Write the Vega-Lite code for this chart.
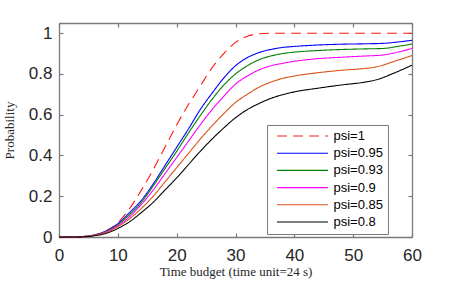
{
  "$schema": "https://vega.github.io/schema/vega-lite/v6.json",
  "width": 353,
  "height": 214,
  "autosize": "none",
  "padding": {"left": 59, "top": 23, "right": 43, "bottom": 56},
  "background": "white",
  "config": {
    "view": {"stroke": null},
    "axis": {
      "domainColor": "#7a7a7a", "domainWidth": 1.3,
      "tickColor": "#7a7a7a", "tickWidth": 1.2, "tickSize": -4,
      "grid": false,
      "labelFont": "Liberation Sans", "labelFontSize": 17, "labelColor": "#262626",
      "titleFont": "Liberation Serif", "titleFontSize": 13, "titleFontWeight": "normal", "titleColor": "#262626"
    }
  },
  "data": {"values": [
    {"psi":"psi=1","t":0,"p":0},{"psi":"psi=1","t":2,"p":0},{"psi":"psi=1","t":4,"p":0.002},{"psi":"psi=1","t":6,"p":0.01},{"psi":"psi=1","t":8,"p":0.03},{"psi":"psi=1","t":10,"p":0.07},{"psi":"psi=1","t":12,"p":0.14},{"psi":"psi=1","t":14,"p":0.23},{"psi":"psi=1","t":16,"p":0.33},{"psi":"psi=1","t":18,"p":0.44},{"psi":"psi=1","t":20,"p":0.55},{"psi":"psi=1","t":22,"p":0.65},{"psi":"psi=1","t":24,"p":0.74},{"psi":"psi=1","t":26,"p":0.83},{"psi":"psi=1","t":28,"p":0.9},{"psi":"psi=1","t":30,"p":0.955},{"psi":"psi=1","t":32,"p":0.985},{"psi":"psi=1","t":34,"p":0.997},{"psi":"psi=1","t":36,"p":1},{"psi":"psi=1","t":40,"p":1},{"psi":"psi=1","t":50,"p":1},{"psi":"psi=1","t":60,"p":1},
    {"psi":"psi=0.95","t":0,"p":0},{"psi":"psi=0.95","t":2,"p":0},{"psi":"psi=0.95","t":4,"p":0.002},{"psi":"psi=0.95","t":6,"p":0.01},{"psi":"psi=0.95","t":8,"p":0.03},{"psi":"psi=0.95","t":10,"p":0.065},{"psi":"psi=0.95","t":12,"p":0.12},{"psi":"psi=0.95","t":14,"p":0.18},{"psi":"psi=0.95","t":16,"p":0.26},{"psi":"psi=0.95","t":18,"p":0.35},{"psi":"psi=0.95","t":20,"p":0.44},{"psi":"psi=0.95","t":22,"p":0.53},{"psi":"psi=0.95","t":24,"p":0.625},{"psi":"psi=0.95","t":26,"p":0.705},{"psi":"psi=0.95","t":28,"p":0.78},{"psi":"psi=0.95","t":30,"p":0.84},{"psi":"psi=0.95","t":32,"p":0.88},{"psi":"psi=0.95","t":34,"p":0.905},{"psi":"psi=0.95","t":36,"p":0.92},{"psi":"psi=0.95","t":38,"p":0.93},{"psi":"psi=0.95","t":40,"p":0.935},{"psi":"psi=0.95","t":44,"p":0.942},{"psi":"psi=0.95","t":48,"p":0.946},{"psi":"psi=0.95","t":52,"p":0.948},{"psi":"psi=0.95","t":55,"p":0.95},{"psi":"psi=0.95","t":58,"p":0.958},{"psi":"psi=0.95","t":60,"p":0.965},
    {"psi":"psi=0.93","t":0,"p":0},{"psi":"psi=0.93","t":2,"p":0},{"psi":"psi=0.93","t":4,"p":0.002},{"psi":"psi=0.93","t":6,"p":0.01},{"psi":"psi=0.93","t":8,"p":0.028},{"psi":"psi=0.93","t":10,"p":0.06},{"psi":"psi=0.93","t":12,"p":0.11},{"psi":"psi=0.93","t":14,"p":0.17},{"psi":"psi=0.93","t":16,"p":0.25},{"psi":"psi=0.93","t":18,"p":0.335},{"psi":"psi=0.93","t":20,"p":0.42},{"psi":"psi=0.93","t":22,"p":0.51},{"psi":"psi=0.93","t":24,"p":0.595},{"psi":"psi=0.93","t":26,"p":0.675},{"psi":"psi=0.93","t":28,"p":0.745},{"psi":"psi=0.93","t":30,"p":0.8},{"psi":"psi=0.93","t":32,"p":0.84},{"psi":"psi=0.93","t":34,"p":0.87},{"psi":"psi=0.93","t":36,"p":0.888},{"psi":"psi=0.93","t":38,"p":0.9},{"psi":"psi=0.93","t":40,"p":0.907},{"psi":"psi=0.93","t":44,"p":0.915},{"psi":"psi=0.93","t":48,"p":0.92},{"psi":"psi=0.93","t":52,"p":0.923},{"psi":"psi=0.93","t":55,"p":0.925},{"psi":"psi=0.93","t":58,"p":0.937},{"psi":"psi=0.93","t":60,"p":0.947},
    {"psi":"psi=0.9","t":0,"p":0},{"psi":"psi=0.9","t":2,"p":0},{"psi":"psi=0.9","t":4,"p":0.002},{"psi":"psi=0.9","t":6,"p":0.009},{"psi":"psi=0.9","t":8,"p":0.026},{"psi":"psi=0.9","t":10,"p":0.055},{"psi":"psi=0.9","t":12,"p":0.1},{"psi":"psi=0.9","t":14,"p":0.16},{"psi":"psi=0.9","t":16,"p":0.23},{"psi":"psi=0.9","t":18,"p":0.31},{"psi":"psi=0.9","t":20,"p":0.39},{"psi":"psi=0.9","t":22,"p":0.47},{"psi":"psi=0.9","t":24,"p":0.55},{"psi":"psi=0.9","t":26,"p":0.625},{"psi":"psi=0.9","t":28,"p":0.69},{"psi":"psi=0.9","t":30,"p":0.75},{"psi":"psi=0.9","t":32,"p":0.79},{"psi":"psi=0.9","t":34,"p":0.82},{"psi":"psi=0.9","t":36,"p":0.84},{"psi":"psi=0.9","t":38,"p":0.852},{"psi":"psi=0.9","t":40,"p":0.862},{"psi":"psi=0.9","t":44,"p":0.875},{"psi":"psi=0.9","t":48,"p":0.882},{"psi":"psi=0.9","t":52,"p":0.888},{"psi":"psi=0.9","t":55,"p":0.893},{"psi":"psi=0.9","t":58,"p":0.91},{"psi":"psi=0.9","t":60,"p":0.925},
    {"psi":"psi=0.85","t":0,"p":0},{"psi":"psi=0.85","t":2,"p":0},{"psi":"psi=0.85","t":4,"p":0.002},{"psi":"psi=0.85","t":6,"p":0.008},{"psi":"psi=0.85","t":8,"p":0.022},{"psi":"psi=0.85","t":10,"p":0.05},{"psi":"psi=0.85","t":12,"p":0.09},{"psi":"psi=0.85","t":14,"p":0.14},{"psi":"psi=0.85","t":16,"p":0.2},{"psi":"psi=0.85","t":18,"p":0.27},{"psi":"psi=0.85","t":20,"p":0.34},{"psi":"psi=0.85","t":22,"p":0.41},{"psi":"psi=0.85","t":24,"p":0.48},{"psi":"psi=0.85","t":26,"p":0.545},{"psi":"psi=0.85","t":28,"p":0.605},{"psi":"psi=0.85","t":30,"p":0.66},{"psi":"psi=0.85","t":32,"p":0.7},{"psi":"psi=0.85","t":34,"p":0.735},{"psi":"psi=0.85","t":36,"p":0.76},{"psi":"psi=0.85","t":38,"p":0.778},{"psi":"psi=0.85","t":40,"p":0.79},{"psi":"psi=0.85","t":44,"p":0.806},{"psi":"psi=0.85","t":48,"p":0.818},{"psi":"psi=0.85","t":52,"p":0.827},{"psi":"psi=0.85","t":54,"p":0.835},{"psi":"psi=0.85","t":57,"p":0.862},{"psi":"psi=0.85","t":60,"p":0.89},
    {"psi":"psi=0.8","t":0,"p":0},{"psi":"psi=0.8","t":2,"p":0},{"psi":"psi=0.8","t":4,"p":0.001},{"psi":"psi=0.8","t":6,"p":0.006},{"psi":"psi=0.8","t":8,"p":0.018},{"psi":"psi=0.8","t":10,"p":0.042},{"psi":"psi=0.8","t":12,"p":0.075},{"psi":"psi=0.8","t":14,"p":0.12},{"psi":"psi=0.8","t":16,"p":0.17},{"psi":"psi=0.8","t":18,"p":0.23},{"psi":"psi=0.8","t":20,"p":0.29},{"psi":"psi=0.8","t":22,"p":0.355},{"psi":"psi=0.8","t":24,"p":0.42},{"psi":"psi=0.8","t":26,"p":0.48},{"psi":"psi=0.8","t":28,"p":0.535},{"psi":"psi=0.8","t":30,"p":0.585},{"psi":"psi=0.8","t":32,"p":0.625},{"psi":"psi=0.8","t":34,"p":0.655},{"psi":"psi=0.8","t":36,"p":0.68},{"psi":"psi=0.8","t":38,"p":0.698},{"psi":"psi=0.8","t":40,"p":0.712},{"psi":"psi=0.8","t":44,"p":0.73},{"psi":"psi=0.8","t":48,"p":0.746},{"psi":"psi=0.8","t":52,"p":0.76},{"psi":"psi=0.8","t":54,"p":0.772},{"psi":"psi=0.8","t":57,"p":0.805},{"psi":"psi=0.8","t":60,"p":0.843}
  ]},
  "layer": [
    {
      "mark": {"type": "line", "interpolate": "monotone", "strokeWidth": 1.1},
      "encoding": {
        "x": {"field": "t", "type": "quantitative",
              "scale": {"domain": [0, 60], "nice": false},
              "axis": {"orient": "bottom", "values": [0,10,20,30,40,50,60], "labelPadding": 14, "labelFlush": false, "title": "Time budget (time unit=24 s)", "titlePadding": 2}},
        "y": {"field": "p", "type": "quantitative",
              "scale": {"domain": [0, 1.05], "nice": false},
              "axis": {"orient": "left", "values": [0,0.2,0.4,0.6,0.8,1], "format": ".1~f", "labelPadding": 11, "labelFlush": false, "title": "Probability", "titlePadding": 12}},
        "color": {"field": "psi", "type": "nominal",
                  "scale": {"domain": ["psi=1","psi=0.95","psi=0.93","psi=0.9","psi=0.85","psi=0.8"],
                            "range": ["#ff1a1a","#0000ff","#008000","#ff00ff","#d95319","#000000"]},
                  "legend": {"orient": "none", "legendX": 208, "legendY": 102, "title": null,
                             "symbolType": "M-25.5,0H25.5", "symbolSize": 4, "symbolStrokeWidth": 1.1,
                             "symbolOffset": 24.5, "labelOffset": 24.5, "rowPadding": 3.2, "padding": 4.5,
                             "strokeColor": "#7a7a7a", "fillColor": "white",
                             "labelFont": "Liberation Sans", "labelFontSize": 13, "labelColor": "#000000"}},
        "strokeDash": {"field": "psi", "type": "nominal",
                       "scale": {"domain": ["psi=1","psi=0.95","psi=0.93","psi=0.9","psi=0.85","psi=0.8"],
                                 "range": [[10,6],[1,0],[1,0],[1,0],[1,0],[1,0]]},
                       "legend": {"orient": "none", "legendX": 208, "legendY": 102, "title": null,
                             "symbolType": "M-25.5,0H25.5", "symbolSize": 4, "symbolStrokeWidth": 1.1,
                             "symbolOffset": 24.5, "labelOffset": 24.5, "rowPadding": 3.2, "padding": 4.5,
                             "strokeColor": "#7a7a7a", "fillColor": "white",
                             "labelFont": "Liberation Sans", "labelFontSize": 13, "labelColor": "#000000"}}
      }
    },
    {
      "mark": {"type": "line", "opacity": 0},
      "encoding": {
        "x": {"field": "t", "type": "quantitative",
              "axis": {"orient": "top", "values": [0,10,20,30,40,50,60], "labels": false, "title": null}},
        "y": {"field": "p", "type": "quantitative",
              "axis": {"orient": "right", "values": [0,0.2,0.4,0.6,0.8,1], "labels": false, "title": null}}
      }
    }
  ],
  "resolve": {"axis": {"x": "independent", "y": "independent"}}
}
